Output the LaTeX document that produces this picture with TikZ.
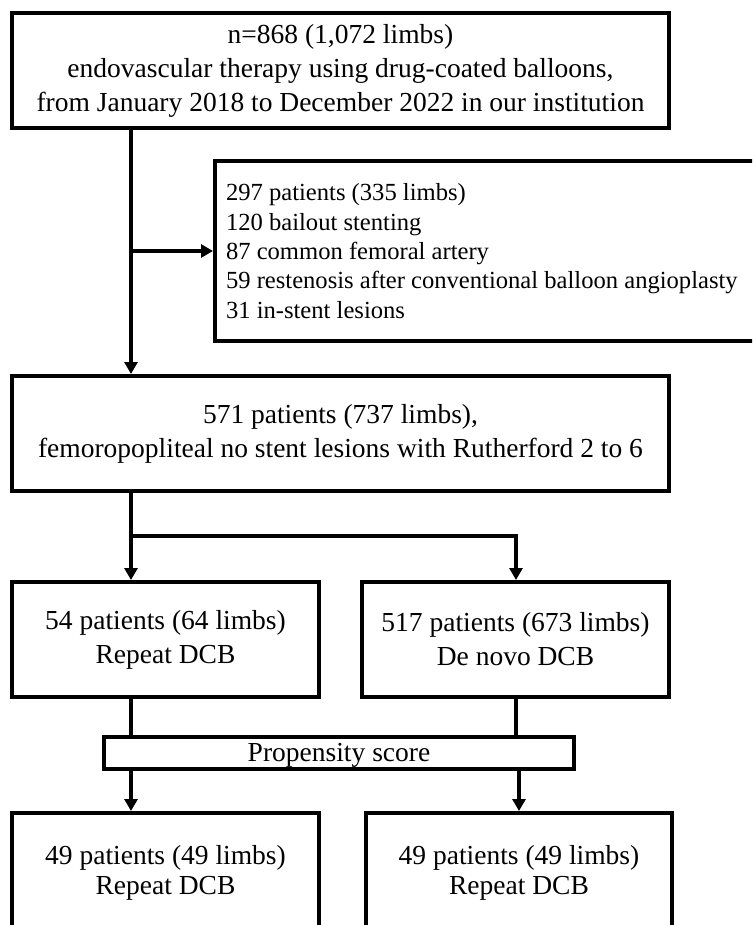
\documentclass[tikz,border=0pt]{standalone}
\usepackage{fontspec}
\setmainfont{Liberation Serif}
\usetikzlibrary{arrows.meta}
\begin{document}
\begin{tikzpicture}[x=1pt,y=-1pt,
  box/.style={draw, line width=4pt, inner sep=0pt, align=center,
    font=\fontsize{27.5}{34}\selectfont},
  conn/.style={line width=3.7pt},
  arr/.style={conn, -{Triangle[length=12pt,width=13pt]}}]
\useasboundingbox (0,0) rectangle (752,925);
\clip (0,0) rectangle (752,925);
% boxes
\node[box, minimum width=657pt, minimum height=115pt] (top) at (340.5,70.5)
  {n=868 (1,072 limbs)\\endovascular therapy using drug-coated balloons,\\from January 2018 to December 2022 in our institution};
\node[box, minimum width=585pt, minimum height=180pt, inner xsep=11pt, text width=563pt, align=flush left,
  font=\fontsize{24.6}{29.3}\selectfont] (excl) at (507.5,251)
  {297 patients (335 limbs)\\120 bailout stenting\\87 common femoral artery\\59 restenosis after conventional balloon angioplasty\\31 in-stent lesions};
\node[box, minimum width=657pt, minimum height=115pt] (mid) at (340.5,433.5)
  {571 patients (737 limbs),\\femoropopliteal no stent lesions with Rutherford 2 to 6};
\node[box, minimum width=307pt, minimum height=115pt] (A) at (165.5,639.5)
  {54 patients (64 limbs)\\Repeat DCB};
\node[box, minimum width=307pt, minimum height=115pt] (B) at (515.5,639.5)
  {517 patients (673 limbs)\\De novo DCB};
\node[box, line width=3.5pt, minimum width=470pt, minimum height=32pt,
  text height=20pt, text depth=3pt] (prop) at (339,753)
  {Propensity score};
\node[box, minimum width=307pt, minimum height=120pt, font=\fontsize{27.5}{30}\selectfont] (C) at (165.5,873)
  {49 patients (49 limbs)\\Repeat DCB};
\node[box, minimum width=306pt, minimum height=120pt, font=\fontsize{27.5}{30}\selectfont] (D) at (519,873)
  {49 patients (49 limbs)\\Repeat DCB};
% connector columns
\coordinate (xl) at (131,0);
\coordinate (xr) at (516,0);
\coordinate (xr2) at (519,0);
\coordinate (br) at (131,536);
% connectors
\draw[arr] (top.south -| xl) -- (mid.north -| xl);
\draw[arr] (xl |- excl.west) -- (excl.west);
\draw[arr] (mid.south -| xl) -- (A.north -| xl);
\draw[arr] (br) -| (B.north -| xr);
\draw[conn] (A.south -| xl) -- (prop.north -| xl);
\draw[conn] (B.south -| xr) -- (prop.north -| xr);
\draw[arr] (prop.south -| xl) -- (C.north -| xl);
\draw[arr] (prop.south -| xr2) -- (D.north -| xr2);
\end{tikzpicture}
\end{document}
